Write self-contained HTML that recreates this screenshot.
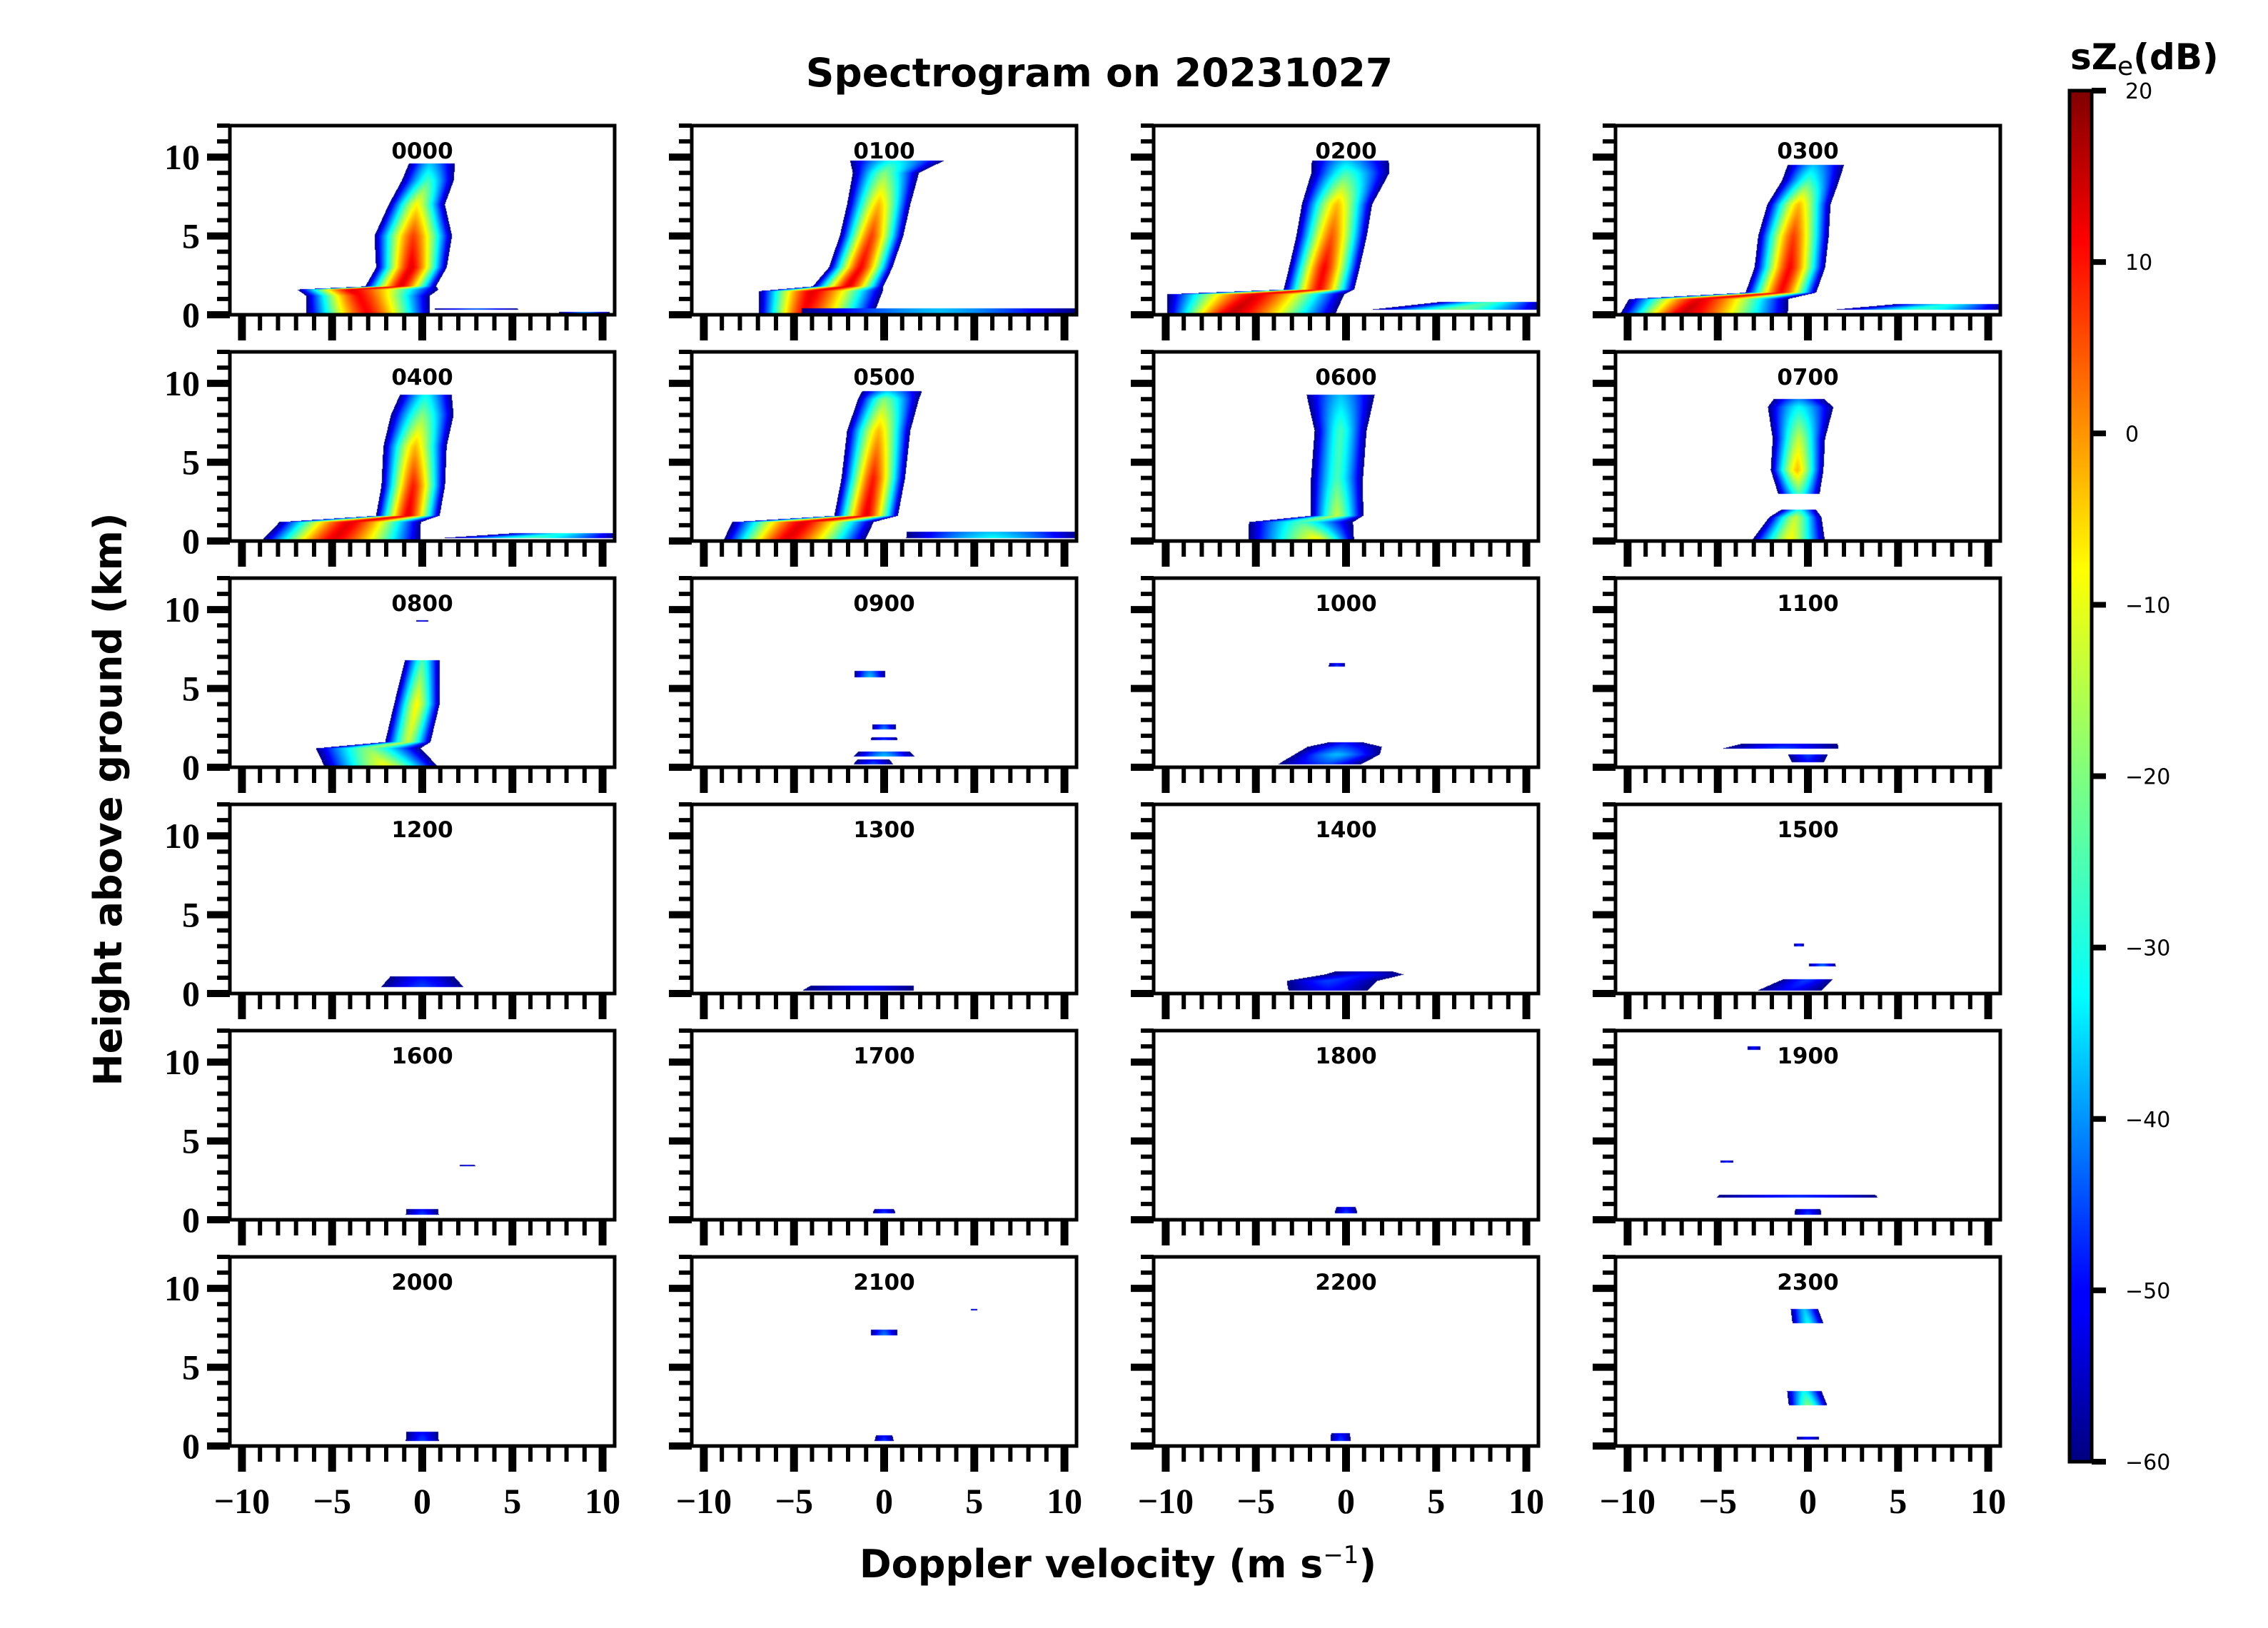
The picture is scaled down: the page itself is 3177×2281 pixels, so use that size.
<!DOCTYPE html>
<html><head><meta charset="utf-8"><style>
html,body{margin:0;padding:0;background:#fff;}
#wrap{position:relative;width:3177px;height:2281px;overflow:hidden;}
canvas,svg{position:absolute;left:0;top:0;}
</style></head><body>
<div id="wrap">
<canvas id="cv" width="3177" height="2281"></canvas>
<svg id="sv" width="3177" height="2281" xmlns="http://www.w3.org/2000/svg">
<defs><linearGradient id="jetg" x1="0" y1="1" x2="0" y2="0">
<stop offset="0" stop-color="#00007f"/><stop offset="0.11" stop-color="#0000ff"/><stop offset="0.125" stop-color="#0000ff"/>
<stop offset="0.34" stop-color="#00ffff"/><stop offset="0.5" stop-color="#7fff7f"/><stop offset="0.65" stop-color="#ffff00"/>
<stop offset="0.89" stop-color="#ff0000"/><stop offset="1" stop-color="#7f0000"/></linearGradient></defs>
<text x="1540" y="121" text-anchor="middle" font-family="DejaVu Sans, sans-serif" font-weight="bold" font-size="55">Spectrogram on 20231027</text>
<text transform="translate(170,1120) rotate(-90)" text-anchor="middle" font-family="DejaVu Sans, sans-serif" font-weight="bold" font-size="54">Height above ground (km)</text>
<text x="1566" y="2210" text-anchor="middle" font-family="DejaVu Sans, sans-serif" font-weight="bold" font-size="54">Doppler velocity (m s<tspan dy="-20" font-size="34" font-weight="normal">−1</tspan><tspan dy="20">)</tspan></text>
<text x="2900" y="97" font-family="DejaVu Sans, sans-serif" font-weight="bold" font-size="50">sZ<tspan dy="8" font-size="36" font-weight="normal">e</tspan><tspan dy="-8">(dB)</tspan></text>
<rect x="2899" y="127" width="31" height="1921" fill="url(#jetg)" stroke="#000" stroke-width="5"/>
<g id="axes"></g>
</svg>
</div>
<script>
// ---- data ----
const times = ["0000","0100","0200","0300","0400","0500","0600","0700","0800","0900","1000","1100","1200","1300","1400","1500","1600","1700","1800","1900","2000","2100","2200","2300"];
// each panel: list of blobs; blob = knots [height_km, center_ms, leftWidth, rightWidth, peak_dB]
const p0000 = [[[0,-3,3.5,3.5,10],[1.2,-3.5,3,4,10],[1.6,-4,3,5,12],[1.8,-1.2,2,2,12],[3,-0.6,2,2,12],[5,-0.5,2.2,2.2,5],[7,-0.3,1.6,1.6,-10],[8.5,0.3,1.5,1.5,-25],[9.6,0.4,1.2,1.5,-35]],[[0.3,3,2.5,2.5,-40],[0.4,3,2.5,2.5,-45]],[[0.0,9,1.5,1.5,-40],[0.2,9,1.5,1.5,-40]]];
const p0100 = [[[0,-4.5,2.5,4,10],[1.5,-4,3,4,12],[1.8,-2,2,2,12],[3,-1.3,1.8,1.8,10],[5,-0.7,1.8,1.8,5],[7,-0.3,1.8,1.8,-5],[9,0,1.8,2,-20],[9.8,0.5,2.5,3,-30]],[[0.1,3,8,8,-35],[0.4,3,8,8,-35]]];
const p0200 = [[[0,-6.5,3.5,6,15],[1.3,-5,5,5,12],[1.6,-1.5,2,2,10],[3,-1.2,2,2,10],[5,-0.8,2,2,3],[7,-0.5,2,2,-5],[9,0,2,2.5,-25],[9.8,0,2,2.5,-35]],[[0.3,6,5,5,-20],[0.8,8,3,3,-25]]];
const p0300 = [[[0,-7,3.5,6,15],[1.0,-6,4,5,12],[1.4,-1.5,2,2,10],[3,-1,2,2,10],[5,-0.8,2,2,5],[7,-0.5,1.8,1.8,-5],[8.5,0,1.5,1.8,-25],[9.5,0.3,1.5,1.8,-35]],[[0.3,6,5,5,-25],[0.7,8,3,3,-30]]];
const p0400 = [[[0,-5,4,5,12],[1.2,-4,4,4,12],[1.6,-0.8,1.8,1.8,12],[3.5,-0.5,1.8,1.8,8],[6,-0.4,1.8,1.8,-5],[8,0,1.8,1.8,-20],[9.3,0.2,1.5,1.5,-30]],[[0.2,6,5,5,-25],[0.5,8,3,3,-30]]];
const p0500 = [[[0,-5.5,3.5,4.5,12],[1.2,-4.5,4,4,12],[1.6,-1,1.8,1.8,12],[4,-0.6,1.8,1.8,8],[7,-0.3,1.8,1.8,-5],[9,0,1.5,2,-20],[9.5,0.2,1.5,2,-35]],[[0.2,6,5,5,-30],[0.6,6,5,5,-35]]];
const p0600 = [[[0,-1.5,4,2,-8],[1.2,-2.5,3,3,-25],[1.6,-0.5,1.5,1.5,-15],[4,-0.5,1.5,1.5,-25],[7,-0.3,1.5,1.5,-25],[9.3,-0.3,2,2,-35]]];
const p0700 = [[[0,-1,2.2,2,-10],[1.5,-0.7,1.5,1.5,-15],[2.0,-0.5,1,1,-30]],[[3,-0.5,1.2,1.2,-25],[4.5,-0.6,1.5,1.5,-5],[6.5,-0.5,1.5,1.5,-15],[8.5,-0.5,1.8,2,-30],[9,-0.5,1.5,1.5,-40]]];
const p0800 = [[[0,-2,3.5,3,-10],[1.2,-3,3,3,-20],[1.6,-0.8,1.3,1.3,-15],[4,-0.3,1.3,1.3,-10],[6.8,0,1,1,-25]],[[9.25,0,0.4,0.4,-50],[9.35,0,0.4,0.4,-50]]];
const p0900 = [[[5.7,-0.8,0.9,0.9,-35],[6.1,-0.8,0.9,0.9,-40]],[[2.4,0,0.7,0.7,-40],[2.7,0,0.7,0.7,-45]],[[1.7,0,0.8,0.8,-45],[1.9,0,0.8,0.8,-50]],[[0.7,0,1.8,1.8,-35],[1.0,0,1.5,1.5,-40]],[[0.2,-0.6,1.2,1.2,-45],[0.5,-0.6,1,1,-50]]];
const p1000 = [[[6.4,-0.5,0.5,0.5,-45],[6.6,-0.5,0.5,0.5,-50]],[[0.2,-1,3,2,-45],[0.8,-0.5,2.5,2.5,-35],[1.3,-0.3,2,2.5,-45],[1.6,0,1,1,-50]]];
const p1100 = [[[1.2,-1.5,3.5,3.5,-45],[1.5,-1,3,3,-50]],[[0.3,0,1,1,-50],[0.8,0,1.2,1.2,-45]]];
const p1200 = [[[0.4,0,2.5,2.5,-45],[1.1,0,2,2,-50]]];
const p1300 = [[[0.2,-1,4,3,-50],[0.5,-1,3.5,3,-50]]];
const p1400 = [[[0.2,-1,2.5,2.5,-50],[0.8,-1,2.5,3,-45],[1.2,1,2.5,2.5,-50],[1.4,1,2,2,-55]]];
const p1500 = [[[1.7,0.8,0.8,0.8,-40],[1.9,0.8,0.8,0.8,-45]],[[3.0,-0.5,0.3,0.3,-45],[3.15,-0.5,0.3,0.3,-50]],[[0.2,-1,2,2,-50],[0.9,0,1.5,1.5,-45]]];
const p1600 = [[[0.3,0,1,1,-45],[0.7,0,1,1,-50]],[[3.4,2.5,0.5,0.5,-50],[3.5,2.5,0.5,0.5,-55]]];
const p1700 = [[[0.4,0,0.7,0.7,-45],[0.7,0,0.6,0.6,-50]]];
const p1800 = [[[0.4,0,0.7,0.7,-45],[0.8,0,0.6,0.6,-50]]];
const p1900 = [[[0.3,0,0.8,0.8,-45],[0.7,0,0.8,0.8,-50]],[[1.4,-0.5,5,4.8,-45],[1.6,-0.5,5,4.8,-50]],[[3.6,-4.5,0.4,0.4,-45],[3.75,-4.5,0.4,0.4,-50]],[[10.8,-3,0.4,0.4,-50],[11,-3,0.4,0.4,-50]]];
const p2000 = [[[0.3,0,1,1,-45],[0.9,0,1,1,-50]]];
const p2100 = [[[7.0,0,0.8,0.8,-40],[7.4,0,0.8,0.8,-45]],[[0.3,0,0.6,0.6,-45],[0.7,0,0.5,0.5,-50]],[[8.6,5,0.2,0.2,-50],[8.7,5,0.2,0.2,-50]]];
const p2200 = [[[0.3,-0.3,0.6,0.6,-45],[0.8,-0.3,0.6,0.6,-50]]];
const p2300 = [[[7.8,0,0.9,0.9,-30],[8.7,-0.2,0.8,0.8,-35]],[[2.6,0,1.1,1.1,-20],[3.5,-0.2,1,1,-30]],[[0.4,0,0.7,0.7,-50],[0.6,0,0.7,0.7,-50]]];
const panels = [p0000,p0100,p0200,p0300,p0400,p0500,p0600,p0700,p0800,p0900,p1000,p1100,p1200,p1300,p1400,p1500,p1600,p1700,p1800,p1900,p2000,p2100,p2200,p2300];
const xMajor = [-10,-5,0,5,10];
const xMajorLabels = ["−10","−5","0","5","10"];
const yMajor = [0,5,10];
const cbTicks = [20,10,0,-10,-20,-30,-40,-50,-60];
const cbLabels = ["20","10","0","−10","−20","−30","−40","−50","−60"];

// ---- layout ----
const X0=322, Y0=176, DX=647, DY=317, W=539, H=265;
const VMIN=-10.67, VMAX=10.67, HMIN=0, HMAX=12, ZMIN=-60, ZMAX=20;
const CB={x:2899,y:127,w:31,h:1921};
const NS='http://www.w3.org/2000/svg';
const g=document.getElementById('axes');
function xs(c,v){return X0+c*DX+(v-VMIN)/(VMAX-VMIN)*W;}
function ys(r,h){return Y0+r*DY+H-(h-HMIN)/(HMAX-HMIN)*H;}
function cbY(z){return CB.y+CB.h-(z-ZMIN)/(ZMAX-ZMIN)*CB.h;}
function jet(t){t=Math.max(0,Math.min(1,t));
 function f(x){return Math.max(0,Math.min(1,x));}
 return [f(1.5-Math.abs(4*t-3)),f(1.5-Math.abs(4*t-2)),f(1.5-Math.abs(4*t-1))].map(v=>Math.round(v*255));}
function mk(tag,attrs,parent){const e=document.createElementNS(NS,tag);for(const k in attrs)e.setAttribute(k,attrs[k]);(parent||g).appendChild(e);return e;}

// ---- images ----
const ctx=document.getElementById('cv').getContext('2d');
const img=ctx.createImageData(3177,2281);
panels.forEach((blobs,i)=>{
 const c=i%4,r=Math.floor(i/4);
 const px0=Math.round(xs(c,VMIN)),px1=Math.round(xs(c,VMAX));
 const py0=Math.round(ys(r,HMAX)),py1=Math.round(ys(r,HMIN));
 for(let py=py0;py<py1;py++){
  const h=HMIN+(Y0+r*DY+H-(py+0.5))/H*(HMAX-HMIN);
  for(const b of blobs){
   if(h<b[0][0]||h>b[b.length-1][0])continue;
   let k=0;while(k<b.length-2&&h>b[k+1][0])k++;
   const a=b[k],bb=b[k+1],t=(bb[0]===a[0])?0:(h-a[0])/(bb[0]-a[0]);
   const cc=a[1]+(bb[1]-a[1])*t,wl=a[2]+(bb[2]-a[2])*t,wr=a[3]+(bb[3]-a[3])*t,pk=a[4]+(bb[4]-a[4])*t;
   for(let px=px0;px<px1;px++){
    const v=VMIN+(px+0.5-(X0+c*DX))/W*(VMAX-VMIN);
    const u=Math.abs((v-cc)/(v<cc?wl:wr));
    const z=pk-(pk+62)*Math.pow(u,1.4);
    if(z<ZMIN)continue;
    const col=jet((z-ZMIN)/(ZMAX-ZMIN));
    const o=(py*3177+px)*4;
    img.data[o]=col[0];img.data[o+1]=col[1];img.data[o+2]=col[2];img.data[o+3]=255;
   }
  }
 }
});
ctx.putImageData(img,0,0);

// ---- axes ----
panels.forEach((blobs,i)=>{
 const c=i%4,r=Math.floor(i/4);
 const ax=mk('g',{});
 
 
 const L=X0+c*DX,T=Y0+r*DY;
 for(let hh=0;hh<=12;hh++){
  const maj=yMajor.includes(hh);const y=ys(r,hh);
  const tk=mk('line',{x1:L-(maj?32:18),x2:L,y1:y,y2:y,stroke:'#000','stroke-width':maj?10:6},ax);
  
  
 }
 for(let v=-10;v<=10;v++){
  const maj=xMajor.includes(v);const x=xs(c,v);
  const tk=mk('line',{x1:x,x2:x,y1:T+H,y2:T+H+(maj?36:22),stroke:'#000','stroke-width':maj?11:6},ax);
  
  
 }
 const fr=mk('rect',{x:L,y:T,width:W,height:H,fill:'none',stroke:'#000','stroke-width':5},ax);
 
 
 const lb=mk('text',{x:L+W/2,y:T+46,'text-anchor':'middle','font-family':'DejaVu Sans, sans-serif','font-weight':'bold','font-size':31},ax);
 lb.textContent=times[i];
 
 
 if(c===0){yMajor.forEach(hh=>{
  const t=mk('text',{x:L-42,y:ys(r,hh)+17,'text-anchor':'end','font-family':'Liberation Serif, serif','font-weight':'bold','font-size':50},ax);
  t.textContent=String(hh);
  
  
 });}
 if(r===5){xMajor.forEach((v,j)=>{
  const t=mk('text',{x:xs(c,v),y:T+H+94,'text-anchor':'middle','font-family':'Liberation Serif, serif','font-weight':'bold','font-size':50},ax);
  t.textContent=xMajorLabels[j];
  
  
 });}
});
cbTicks.forEach((z,j)=>{
 const y=cbY(z);
 const tk=mk('line',{x1:CB.x+CB.w,x2:CB.x+CB.w+20,y1:y,y2:y,stroke:'#000','stroke-width':8});
 
 
 const t=mk('text',{x:2977,y:y+11,'font-family':'DejaVu Sans, sans-serif','font-size':30});
 t.textContent=cbLabels[j];
 
 
});
</script>
</body></html>
